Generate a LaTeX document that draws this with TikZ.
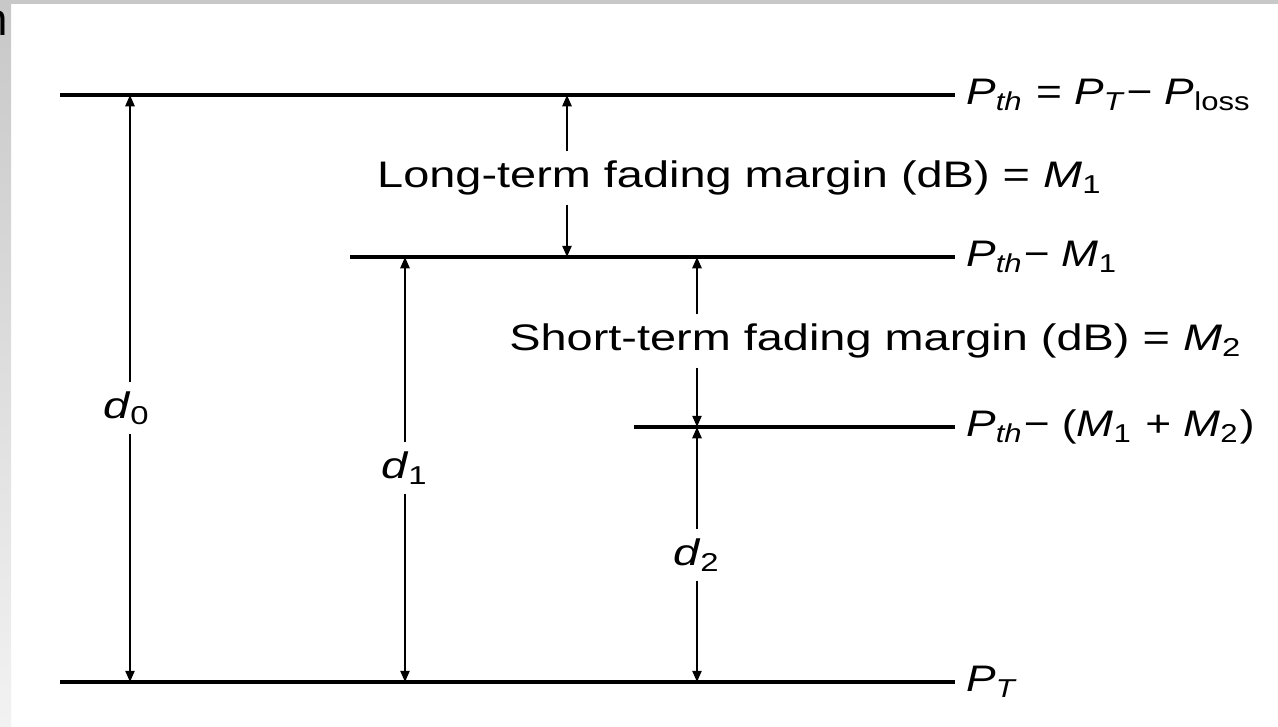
\documentclass[tikz,border=0pt]{standalone}
\usepackage{fontspec}
\setmainfont{Liberation Sans}
\usepackage{graphicx}
\usepackage{tikz}
\usetikzlibrary{arrows.meta,positioning,calc}
\definecolor{frm}{HTML}{C8C8C8}
\definecolor{frmlt}{HTML}{F2F2F2}
\newcommand{\Pth}{\textit{P}\textsubscript{\textit{th}}}
\newcommand{\Msub}[1]{\textit{M}\textsubscript{#1}}
\newcommand{\widetxt}[2][1.27]{\scalebox{#1}[1]{#2}}

\begin{document}
\begin{tikzpicture}[x=0.01cm,y=-0.01cm,
    lvl/.style={line width=0.9pt},
    arr/.style={-{Triangle[length=3.2pt,width=2.6pt]},line width=0.6pt},
    lbl/.style={font=\fontsize{10.5}{12}\selectfont,inner sep=2.5pt}]
  \useasboundingbox (0,0) rectangle (1278,726);
  % slide frame
  \fill[frm] (0,0) rectangle (1278,4);
  \shade[top color=frm,bottom color=frmlt] (0,4) rectangle (11,726);
  \node[font=\fontsize{13}{14}\selectfont,anchor=north east,inner sep=0pt] (frag) at (9,10) {n};
  % power levels
  \foreach \nm/\y/\xs/\txt in {
      top/95/60/{\Pth{} = \textit{P}\textsubscript{\textit{T}}− \textit{P}\textsubscript{loss}},
      mone/257/350/{\Pth− \Msub{1}},
      mtwo/427/634/{\Pth− (\Msub{1} + \Msub{2})},
      pt/682/60/{\textit{P}\textsubscript{\textit{T}}}} {
    \coordinate (\nm-l) at (\xs,\y);
    \node[lbl,anchor=west,inner sep=3pt] (\nm) at (955,\y) {\widetxt[1.2]{\txt}};
    \draw[lvl] (\nm-l) -- (\nm.west);
  }
  % distance arrows d0, d1, d2
  \foreach \nm/\x/\yt in {dz/130/95,done/405/257,dtwo/697/427} {
    \coordinate (\nm-t) at (\x,\yt);
    \coordinate (\nm-b) at (\x,682);
  }
  \node[lbl] (dz) at (127,408) {\widetxt{\textit{d}\textsubscript{0}}};
  \node[lbl] (done) at (405,468) {\widetxt{\textit{d}\textsubscript{1}}};
  \node[lbl] (dtwo) at (697,555) {\widetxt{\textit{d}\textsubscript{2}}};
  \foreach \nm in {dz,done,dtwo} {
    \draw[arr] (\nm.north -| \nm-t) -- (\nm-t);
    \draw[arr] (\nm.south -| \nm-b) -- (\nm-b);
  }
  % fading margins
  \coordinate (ma-t) at (567,95);
  \coordinate (ma-b) at (567,257);
  \coordinate (mb-t) at (697,257);
  \coordinate (mb-b) at (697,427);
  \node[lbl] (ma) at (740,178) {\widetxt{Long-term fading margin (dB) = \Msub{1}}};
  \node[lbl] (mb) at (876,341) {\widetxt{Short-term fading margin (dB) = \Msub{2}}};
  \draw[arr] (ma.north -| ma-t) -- (ma-t);
  \draw[arr] (ma.south -| ma-b) -- (ma-b);
  \draw[arr] (mb.north -| mb-t) -- (mb-t);
  \draw[arr] (mb.south -| mb-b) -- (mb-b);
\end{tikzpicture}
\end{document}
